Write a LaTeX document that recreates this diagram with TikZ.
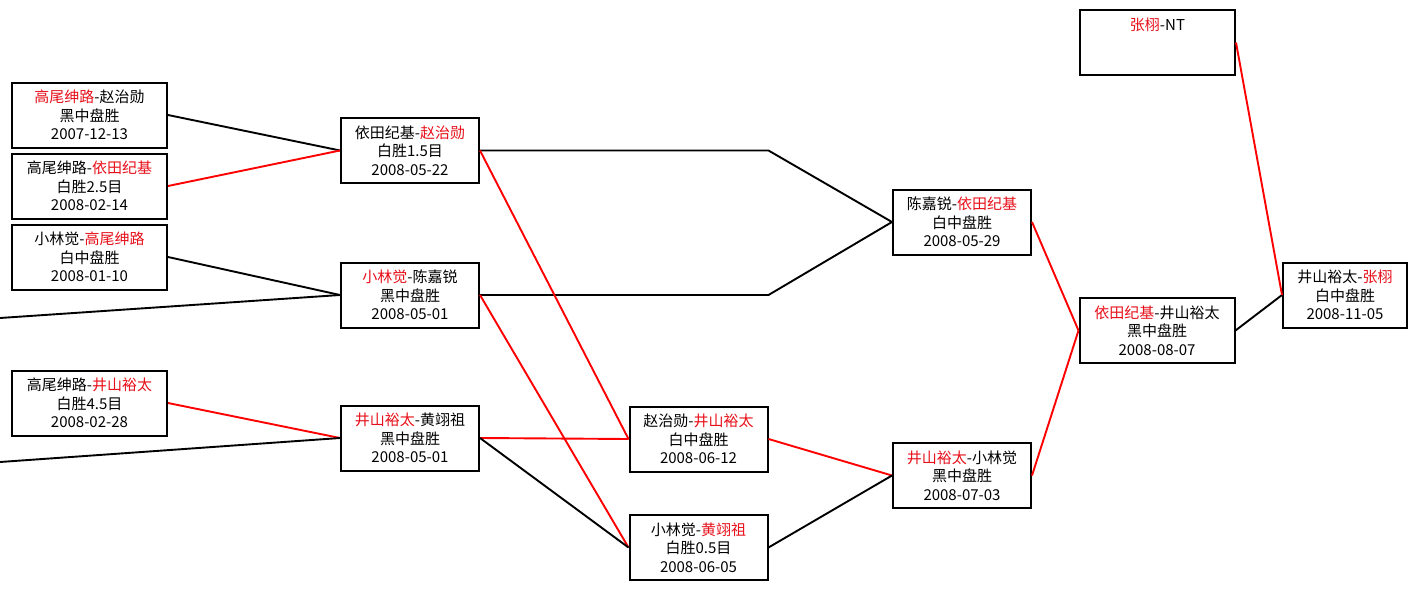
\documentclass[tikz,border=0pt]{standalone}
\usepackage{fontspec}
\setmainfont{Noto Sans CJK SC}
\usepackage{xcolor}
\usetikzlibrary{positioning}
\definecolor{winred}{HTML}{E8101A}
\newcommand{\wname}[1]{\textcolor{winred}{#1}}
\tikzset{
  game/.style={rectangle, draw=black, line width=2pt, fill=white, align=center, inner sep=0pt, minimum height=65pt, font=\fontsize{15}{18.5}\selectfont},
  widegame/.style={game, minimum width=155pt},
  narrowgame/.style={game, minimum width=138pt},
  finalgame/.style={game, minimum width=124pt},
  winline/.style={draw=red, line width=1.9pt},
  plainline/.style={draw=black, line width=1.9pt},
}

\begin{document}
\begin{tikzpicture}[x=1pt, y=-1pt, node distance=4pt]
  \path[fill=white, use as bounding box] (0,0) rectangle (1417,589);
  % first round
  \node[widegame] (a1) at (89.5,115) {\wname{高尾绅路}-赵治勋\\黑中盘胜\\2007-12-13};
  \node[widegame, below=of a1] (a2) {高尾绅路-\wname{依田纪基}\\白胜2.5目\\2008-02-14};
  \node[widegame, below=of a2] (a3) {小林觉-\wname{高尾绅路}\\白中盘胜\\2008-01-10};
  \node[widegame] (a4) at (89.5,403) {高尾绅路-\wname{井山裕太}\\白胜4.5目\\2008-02-28};
  \coordinate (in1) at (0,318);
  \coordinate (in2) at (0,462);
  % second round
  \node[narrowgame] (b1) at (410,150.5) {依田纪基-\wname{赵治勋}\\白胜1.5目\\2008-05-22};
  \node[narrowgame] (b2) at (410,295) {\wname{小林觉}-陈嘉锐\\黑中盘胜\\2008-05-01};
  \node[narrowgame] (b3) at (410,438) {\wname{井山裕太}-黄翊祖\\黑中盘胜\\2008-05-01};
  % third round
  \node[narrowgame] (c1) at (698.5,439) {赵治勋-\wname{井山裕太}\\白中盘胜\\2008-06-12};
  \node[narrowgame] (c2) at (698.5,547.5) {小林觉-\wname{黄翊祖}\\白胜0.5目\\2008-06-05};
  \node[narrowgame] (d1) at (962,222) {陈嘉锐-\wname{依田纪基}\\白中盘胜\\2008-05-29};
  \node[narrowgame] (d2) at (962,475.5) {\wname{井山裕太}-小林觉\\黑中盘胜\\2008-07-03};
  % final stages
  \node[widegame] (e1) at (1157,330.5) {\wname{依田纪基}-井山裕太\\黑中盘胜\\2008-08-07};
  \node[widegame] (g1) at (1157.5,42.5) {\wname{张栩}-NT\\\mbox{}\\\mbox{}};
  \node[finalgame] (f1) at (1345,295) {井山裕太-\wname{张栩}\\白中盘胜\\2008-11-05};
  % connectors
  \draw[plainline] (a1.east) -- (b1.west);
  \draw[winline] (a2.east) -- (b1.west);
  \draw[plainline] (a3.east) -- (b2.west);
  \draw[plainline] (in1) -- (b2.west);
  \draw[winline] (a4.east) -- (b3.west);
  \draw[plainline] (in2) -- (b3.west);
  \draw[plainline] (b1.east) -- (b1.east -| c1.east) -- (d1.west);
  \draw[plainline] (b2.east) -- (b2.east -| c1.east) -- (d1.west);
  \draw[winline] (b1.east) -- (c1.west);
  \draw[winline] (b3.east) -- (c1.west);
  \draw[winline] (b2.east) -- (c2.west);
  \draw[plainline] (b3.east) -- (c2.west);
  \draw[winline] (c1.east) -- (d2.west);
  \draw[plainline] (c2.east) -- (d2.west);
  \draw[winline] (d1.east) -- (e1.west);
  \draw[winline] (d2.east) -- (e1.west);
  \draw[plainline] (e1.east) -- (f1.west);
  \draw[winline] (g1.east) -- (f1.west);
\end{tikzpicture}
\end{document}
